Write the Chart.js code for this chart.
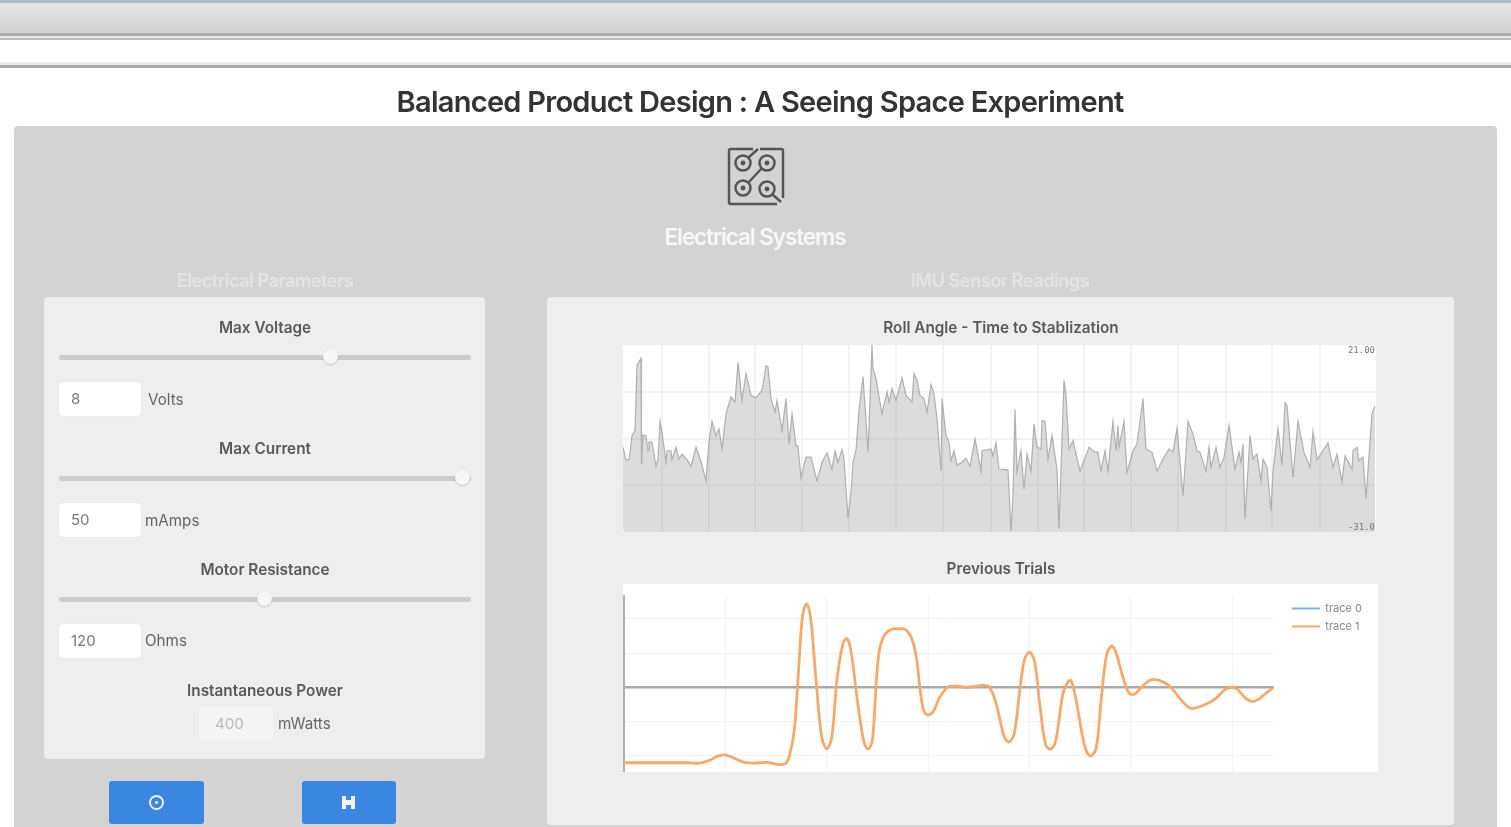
<!DOCTYPE html>
<html><head><meta charset="utf-8">
<script src="https://cdn.jsdelivr.net/npm/chart.js@4"></script>
<style>
html,body{margin:0;padding:0;width:1511px;height:827px;overflow:hidden;background:#fff}
#page{position:absolute;left:0;top:0;width:1511px;height:827px;overflow:hidden;filter:blur(.7px);font-family:Inter,"Noto Sans",sans-serif;color:#555}
.a{position:absolute}
.t{position:absolute;white-space:nowrap;transform:translate(-50%,-50%)}
.l{position:absolute;white-space:nowrap;transform:translateY(-50%);font-size:15.2px;color:#666}
.h{font-size:15.3px;font-weight:600;color:#595959}
.s{font-size:18.2px;font-weight:600;color:#e4e4e4;letter-spacing:-.5px}
.card{position:absolute;background:#eee;border-radius:4px}
.track{position:absolute;left:59px;width:412px;height:5px;background:#ccc;border-radius:2px}
.thumb{position:absolute;width:15px;height:15px;border-radius:50%;background:#f6f6f6;box-shadow:0 1px 2px rgba(0,0,0,.18)}
.inp{position:absolute;background:#fff;border-radius:4px;box-sizing:border-box;height:34px;font-size:15px;color:#777;line-height:34px;padding-left:12px;box-shadow:0 0 1px rgba(0,0,0,.12)}
.btn{position:absolute;background:#3a86e0;border-radius:3px;top:781px;height:43px}
canvas{position:absolute;display:block}
</style></head><body>
<div id="page">
<div class="a" style="left:0;top:0;width:1511px;height:3px;background:#b3bdca"></div>
<div class="a" style="left:0;top:3px;width:1511px;height:30px;background:linear-gradient(#e7e7e7,#d0d0d0)"></div>
<div class="a" style="left:0;top:33px;width:1511px;height:3px;background:#ababab"></div>
<div class="a" style="left:0;top:36px;width:1511px;height:2px;background:#e8e8e8"></div>
<div class="a" style="left:0;top:38px;width:1511px;height:2px;background:#bcbcbc"></div>
<div class="a" style="left:0;top:62px;width:1511px;height:3px;background:#ebebeb"></div>
<div class="a" style="left:0;top:65px;width:1511px;height:3px;background:#a9a9a9"></div>
<div class="t" style="left:760px;top:100.500px;font-size:29px;font-weight:600;color:#333;letter-spacing:-.72px">Balanced Product Design : A Seeing Space Experiment</div>
<div class="a" style="left:14px;top:126px;width:1483px;height:701px;background:#d3d3d3;border-radius:4px 4px 0 0"></div>
<svg class="a" style="left:726px;top:146px" width="60" height="62" viewBox="0 0 60 62" fill="none" stroke="#555" stroke-width="2.5">
<path d="M27 3H5a2 2 0 0 0-2 2V56a2 2 0 0 0 2 2H51"/>
<path d="M34 3H55a2 2 0 0 1 2 2V52"/>
<circle cx="17" cy="17" r="7.500"/><circle cx="17" cy="17" r="1.200"/><path d="M22.500 11.500L32 3"/>
<circle cx="41" cy="17" r="7.500"/><circle cx="41" cy="17" r="1.200"/>
<circle cx="17" cy="42" r="7.500"/><circle cx="17" cy="42" r="1.200"/><path d="M22.500 36.500L35.500 22.500"/>
<circle cx="41" cy="43" r="7.500"/><circle cx="41" cy="43" r="1.200"/><path d="M46.500 48.500L55 56"/>
</svg>
<div class="t" style="left:755px;top:236px;font-size:22.500px;font-weight:600;color:#f7f7f7;letter-spacing:-1.1px">Electrical Systems</div>
<div class="t s" style="left:265px;top:279.500px">Electrical Parameters</div>
<div class="t s" style="left:1000px;top:279.500px">IMU Sensor Readings</div>
<div class="card" style="left:44px;top:297px;width:441px;height:462px"></div>
<div class="card" style="left:547px;top:297px;width:907px;height:528px"></div>

<div class="t h" style="left:265px;top:327px">Max Voltage</div>
<div class="track" style="top:355px"></div><div class="thumb" style="left:323px;top:349px"></div>
<div class="inp" style="left:59px;top:382px;width:82px">8</div><div class="l" style="left:148px;top:399px">Volts</div>
<div class="t h" style="left:265px;top:448px">Max Current</div>
<div class="track" style="top:476px"></div><div class="thumb" style="left:455px;top:470px"></div>
<div class="inp" style="left:59px;top:503px;width:82px">50</div><div class="l" style="left:145px;top:520px">mAmps</div>
<div class="t h" style="left:265px;top:569px">Motor Resistance</div>
<div class="track" style="top:597px"></div><div class="thumb" style="left:257px;top:591px"></div>
<div class="inp" style="left:59px;top:624px;width:82px">120</div><div class="l" style="left:145px;top:640px">Ohms</div>
<div class="t h" style="left:265px;top:689.500px">Instantaneous Power</div>
<div class="inp" style="left:199px;top:707px;width:74px;height:33px;background:#f5f5f5;color:#bbb;padding-left:16px;line-height:33px;box-shadow:none">400</div><div class="l" style="left:278px;top:723px">mWatts</div>

<div class="btn" style="left:109px;width:95px"><svg class="a" style="left:39px;top:13px" width="17" height="17" fill="none" stroke="#eaf2fc" stroke-width="2"><circle cx="8.500" cy="8.500" r="6.500"/><circle cx="8.500" cy="8.500" r="1.600" fill="#eaf2fc" stroke="none"/></svg></div>
<div class="btn" style="left:302px;width:94px"><svg class="a" style="left:39px;top:14px" width="15" height="15"><path d="M1 1h4v4h5V1h4v13h-4v-4H5v4H1z" fill="#f2f6fc"/></svg></div>

<div class="t h" style="left:1001px;top:327px">Roll Angle - Time to Stablization</div>
<div class="t h" style="left:1001px;top:567.500px">Previous Trials</div>
<div class="a" style="left:623px;top:345px;width:753px;height:187px;background:#fff;border-radius:0 0 4px 4px;overflow:hidden"><canvas id="roll" style="left:0;top:0;width:753px;height:187px;filter:blur(.35px)"></canvas></div>
<div class="a" style="left:623px;top:584px;width:755px;height:188px;background:#fff"><canvas id="trials" style="left:0;top:0;width:755px;height:188px"></canvas></div>
</div>
<script>
const rollTime=[0,3,6,9,12,14,18,18.5,20,23,25,26,29,33,35,37,39,43,44,48,49,53,56,59,64,68,73,78,83,86,89,93,96,99,103,108,112,115,119,123,128,133,139,143,145,148,152,154,159,163,166,169,173,175,178,183,188,194,199,204,209,212,215,219,221,225,228,230,233,236,240,243,245,249,250,253,259,264,266,269,273,279,283,289,291,294,297,301,304,308,311,314,318,319,323,326,328,331,334,339,343,347,352,358,359,368,370,373,376,383,385,388,390,392,394,398,401,404,408,411,414,418,419,422,425,429,434,436,441,443,446,450,457,466,472,475,478,482,485,490,493,495,496,501,504,510,514,520,523,529,534,540,546,550,554,560,565,570,574,577,583,586,588,593,597,601,606,612,616,618,620,622,627,630,634,638,640,644,648,650,655,659,662,664,670,675,681,687,690,694,705,710,714,719,722,729,730,734,736,740,743,749,752];
const rollAngle=[-7.4,-10.9,-10.9,-4.2,-2.8,15.4,17.3,-12.1,-4,-4.2,-8.4,-6,-6,-12.7,-10.7,-0.2,-3.2,-11.6,-8.4,-8.4,-10.9,-7.4,-10.7,-9.3,-10.9,-12.7,-7.4,-11.4,-16.7,-6,-0.2,-4.2,-2.3,-7.9,1.9,6.6,5.2,16.2,5.6,13.1,7,6.3,8.4,15.2,15,6.1,2.4,5.6,-2.8,6.1,-6.5,1.9,-7,-7.1,-15.8,-10.2,-10.2,-16.7,-11.6,-9,-13.5,-8.4,-11.6,-8.1,-10.7,-27,-20,-11.6,-8.1,2.8,12.2,0,-8.8,21,14.5,11.7,1.9,8,5.2,8.9,5.6,11.9,7,5.2,13.1,11.2,7,6.1,2.4,10,7.5,0.5,-14,6.1,-4.2,-6,-11.2,-8.4,-12.4,-11.6,-10.5,-12.7,-5.1,-14,-8.4,-7.9,-9.8,-6.2,-13.5,-13.7,-13.7,-30.7,-20.9,3.1,-14.2,-8.4,-19.1,-9.3,-14,-0.9,-7.4,-7.9,0,-0.2,-10.7,-4.2,-13.5,-30.1,11.2,7,-7.9,-5.6,-14,-7.4,-8.8,-8.8,-14,-8.4,-14,-0.2,-8.4,-1.4,-7.4,-0.2,-14.4,-8.4,-6.5,6.1,-7.9,-8.8,-14,-10.7,-7.9,-8.8,-2.1,-20.9,-0.2,-3.7,-8.4,-8.8,-14,-7.4,-13,-7.4,-13,-10.2,-1.2,-13.5,-8.8,-11.6,-6.5,-27.3,-4.2,-10.7,-9.3,-16.7,-10.7,-13,-25.1,-14,-2.1,-12.5,5,4.2,-15.8,-0.2,-8.8,-13,-3,-10.9,-6.2,-13,-9.3,-17,-9.8,-13.5,-8.4,-7.4,-11.2,-10.2,-21.7,1.9,4];
const rollGridX=[38.5,85.5,132,179,226,273,320,368,415,461,508,555,603,649,697];
const rollGridY=[8,-5,-18];
const rollLabels=['21.00','-31.0'];
const trialTime=[0,63,75,85,93,100,109,119,129,141,152,159,163,168,172,176,180,184,190,195,200,205,210,216,220,224,231,237,241,245,249,252,257,264,270,277,283,288,293,296,300,305,311,319,326,339,352,360,367,375,380,385,390,395,400,405,410,416,421,426,433,438,441,445,453,457,461,466,471,476,481,485,492,498,503,508,515,521,528,538,548,557,562,574,584,593,600,605,613,620,626,633,640];
const trace1=[-22.1,-22.1,-22.2,-21.3,-20.1,-19.8,-20.8,-22,-22.2,-22,-22.6,-22.4,-20.3,-12.5,4.1,20.6,24.4,20.6,0.2,-14.5,-18,-14.5,2.1,12.8,14.2,10.4,-5.7,-16.4,-18.1,-15.4,2.1,10.9,15.3,17,17.1,17,14.8,9.4,-2.8,-7.1,-8.1,-7.1,-3.2,0,0.4,0,0.5,0.2,-4.7,-14.5,-16,-13.5,-1.8,8,10.3,7.5,-4.7,-16.9,-18.1,-15.4,-1.8,1.6,1.9,-2.3,-15.4,-19.3,-20.1,-17.4,-2.8,9.4,12.1,10.4,3.1,-1.6,-2.1,-0.8,1.3,2.2,2,0.4,-3.2,-5.9,-6.2,-5,-3.2,-0.6,0,-0.6,-3.2,-4.2,-3.5,-1.8,-0.2];
const trace0=[...trace1];
const trialGridX=[100,200,300,400,500,600];
const trialGridY=[20,10,0,-10,-20];
const names=['trace 0','trace 1'];
const zip=(a,b)=>a.map((x,i)=>({x,y:b[i]}));
Chart.defaults.animation=false;
Chart.defaults.responsive=false;
const endLabels={id:'endLabels',afterDraw(c){const s=c.scales.y,x=c.chartArea.right-1,g=c.ctx;g.save();g.font='9px "DejaVu Sans Mono"';g.fillStyle='#777';g.textAlign='right';g.textBaseline='middle';g.fillText(rollLabels[0],x,s.getPixelForValue(21)+6);g.fillText(rollLabels[1],x,s.getPixelForValue(-31)-4);g.restore();}};
function mk(id,w,h,cfg){const e=document.getElementById(id);e.width=w;e.height=h;return new Chart(e,cfg);}
mk('roll',753,187,{type:'line',plugins:[endLabels],data:{datasets:[{data:zip(rollTime,rollAngle),borderColor:'rgba(150,150,150,.7)',borderWidth:1.2,backgroundColor:'rgba(128,128,128,.28)',fill:'start',pointRadius:0,tension:0}]},
options:{layout:{padding:0},plugins:{legend:{display:false},tooltip:{enabled:false}},
scales:{x:{type:'linear',min:0,max:753,afterBuildTicks:s=>{s.ticks=rollGridX.map(value=>({value}))},ticks:{display:false},grid:{color:'#f3f3f3',lineWidth:2,drawTicks:false},border:{display:false}},
y:{min:-31,max:21,afterBuildTicks:s=>{s.ticks=rollGridY.map(value=>({value}))},ticks:{display:false},grid:{color:'#f3f3f3',lineWidth:2,drawTicks:false},border:{display:false}}}}});
mk('trials',755,188,{type:'line',data:{datasets:[
{label:names[0],order:2,data:zip(trialTime,trace0),borderColor:'#7fb1dc',backgroundColor:'#7fb1dc',borderWidth:1.2,pointRadius:0,tension:.35},
{label:names[1],order:1,data:zip(trialTime,trace1),borderColor:'#f3aa6c',backgroundColor:'#f3aa6c',borderWidth:2.8,pointRadius:0,tension:.35}]},
options:{layout:{padding:{left:1,top:12,right:6,bottom:0}},plugins:{tooltip:{enabled:false},
legend:{position:'right',align:'start',labels:{boxWidth:28,boxHeight:2,padding:7,color:'#888',font:{size:11,family:'Inter'},sort:(a,b)=>a.datasetIndex-b.datasetIndex,
generateLabels:c=>Chart.defaults.plugins.legend.labels.generateLabels(c).map(i=>({...i,lineWidth:0}))}}},
scales:{x:{type:'linear',min:0,max:641,afterBuildTicks:s=>{s.ticks=trialGridX.map(value=>({value}))},ticks:{display:false},grid:{color:'#f3f3f3',lineWidth:1,drawTicks:false},border:{display:false}},
y:{min:-24.8,max:26.7,afterBuildTicks:s=>{s.ticks=trialGridY.map(value=>({value}))},ticks:{display:false},grid:{color:c=>c.tick&&c.tick.value===0?'#aaa':'#f3f3f3',lineWidth:c=>c.tick&&c.tick.value===0?2.4:1,drawTicks:false},border:{display:true,color:'#b0b0b0',width:2}},
gap:{position:'right',display:true,ticks:{display:false},grid:{display:false},border:{display:false},afterFit:s=>{s.width=11}}}}});
</script>
</body></html>
